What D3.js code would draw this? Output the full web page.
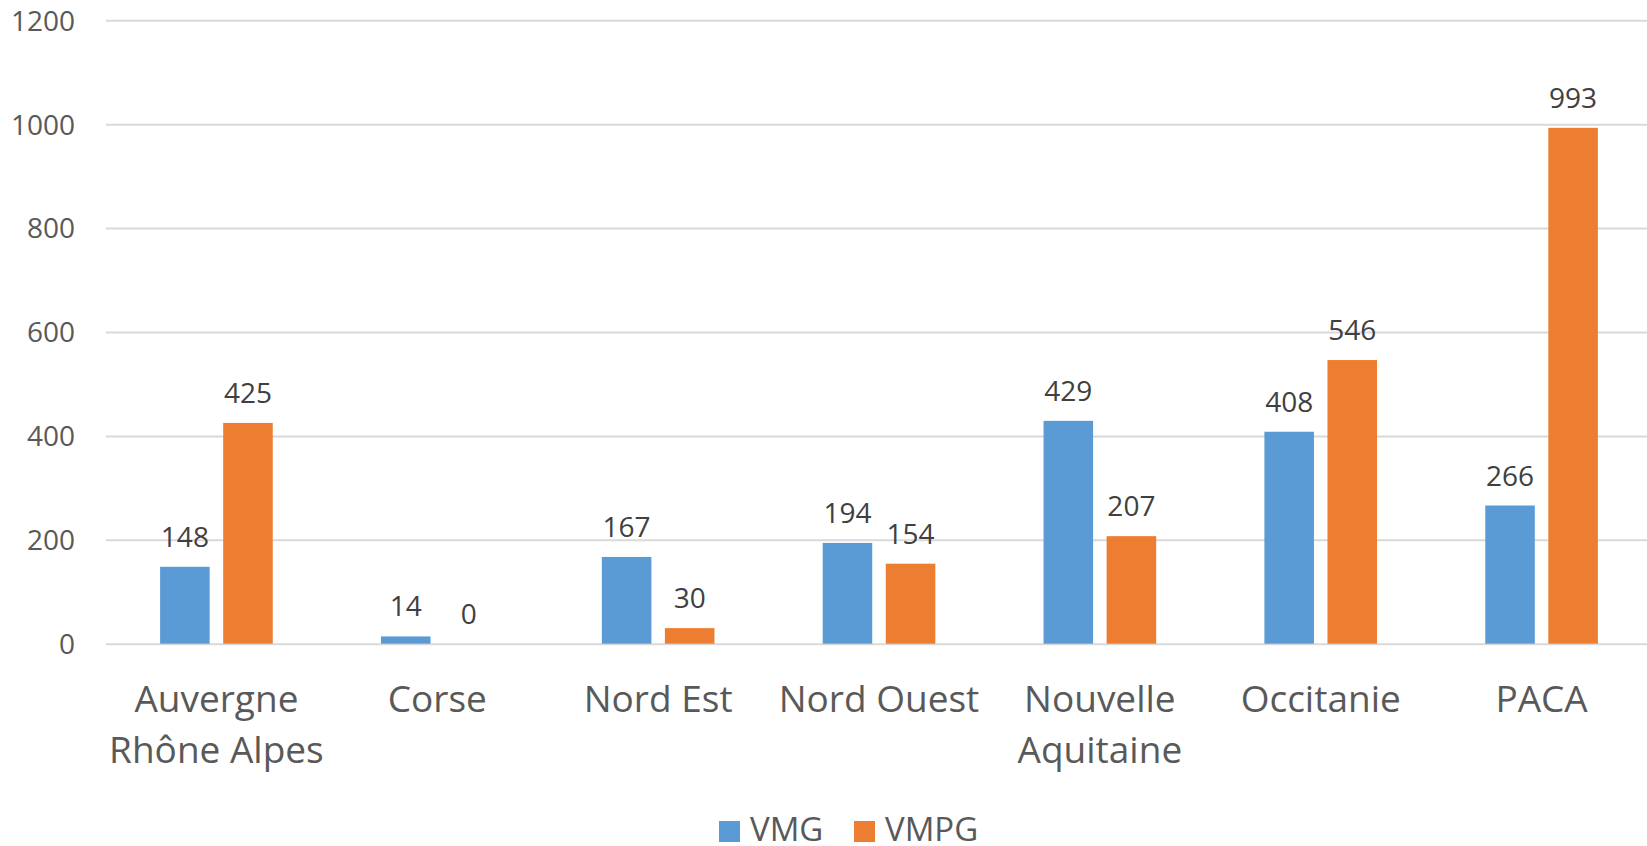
<!DOCTYPE html>
<html>
<head>
<meta charset="utf-8">
<script src="https://cdn.jsdelivr.net/npm/d3@7"></script>
<style>
  body { margin: 0; background: #fff; }
  text { font-family: "Open Sans", sans-serif; }
</style>
</head>
<body>
<div id="chart"></div>
<script>
(function() {
  var categories = ['Auvergne\nRhône Alpes', 'Corse', 'Nord Est', 'Nord Ouest', 'Nouvelle\nAquitaine', 'Occitanie', 'PACA'];
  var seriesNames = ['VMG', 'VMPG'];
  var vmg = [148, 14, 167, 194, 429, 408, 266];
  var vmpg = [425, 0, 30, 154, 207, 546, 993];
  var yTicks = [0, 200, 400, 600, 800, 1000, 1200];
  var colours = ['#5B9BD5', '#ED7D31'];

  var width = 1647, height = 846;
  var left = 106, right = 1652, top = 20.3, bottom = 643.7;

  var svg = d3.select('#chart')
    .append('svg')
    .attr('width', width)
    .attr('height', height);

  var x = d3.scaleBand()
    .domain(categories)
    .range([left, right])
    .paddingInner(0.49)
    .paddingOuter(0.245);

  var xs = d3.scaleBand()
    .domain(seriesNames)
    .range([0, x.bandwidth()])
    .paddingInner(0.2143);

  var y = d3.scaleLinear()
    .domain([0, 1200])
    .range([bottom, top]);

  // gridlines + y labels
  var yAxis = d3.axisLeft(y)
    .tickValues(yTicks)
    .tickFormat(d3.format('d'))
    .tickSize(-(right - left))
    .tickPadding(31);

  var gy = svg.append('g')
    .attr('transform', 'translate(' + left + ',0)')
    .call(yAxis);
  gy.select('.domain').remove();
  gy.selectAll('.tick line')
    .attr('stroke', '#D9D9D9')
    .attr('stroke-width', 2);
  gy.selectAll('.tick text')
    .attr('fill', '#595959')
    .style('font-size', '28px')
    .attr('dy', '0.35em');

  var rows = categories.map(function(c, i) {
    return { cat: c, values: [vmg[i], vmpg[i]] };
  });

  var groups = svg.selectAll('g.cat')
    .data(rows)
    .enter().append('g')
    .attr('class', 'cat')
    .attr('transform', function(d) { return 'translate(' + x(d.cat) + ',0)'; });

  groups.selectAll('rect')
    .data(function(d) { return d.values; })
    .enter().append('rect')
    .attr('x', function(d, i) { return xs(seriesNames[i]); })
    .attr('y', function(d) { return y(d); })
    .attr('width', xs.bandwidth())
    .attr('height', function(d) { return bottom - y(d); })
    .attr('fill', function(d, i) { return colours[i]; });

  groups.selectAll('text.val')
    .data(function(d) { return d.values; })
    .enter().append('text')
    .attr('class', 'val')
    .attr('x', function(d, i) { return xs(seriesNames[i]) + xs.bandwidth() / 2; })
    .attr('y', function(d) { return y(d) - 20; })
    .attr('text-anchor', 'middle')
    .attr('fill', '#404040')
    .style('font-size', '28px')
    .text(function(d) { return d; });

  // category labels
  var labels = svg.selectAll('text.cat')
    .data(categories)
    .enter().append('text')
    .attr('class', 'cat')
    .attr('text-anchor', 'middle')
    .attr('fill', '#595959')
    .style('font-size', '37px');

  labels.each(function(c) {
    var t = d3.select(this);
    c.split('\n').forEach(function(line, k) {
      t.append('tspan')
        .attr('x', x(c) + x.bandwidth() / 2)
        .attr('y', 712 + k * 51)
        .text(line);
    });
  });

  // legend
  var legend = svg.append('g');
  var legendX = [719, 854];
  seriesNames.forEach(function(name, i) {
    legend.append('rect')
      .attr('x', legendX[i])
      .attr('y', 821)
      .attr('width', 21)
      .attr('height', 21)
      .attr('fill', colours[i]);
    legend.append('text')
      .attr('x', legendX[i] + 31)
      .attr('y', 841)
      .attr('fill', '#595959')
      .style('font-size', '33px')
      .text(name);
  });
}());
</script>
</body>
</html>
